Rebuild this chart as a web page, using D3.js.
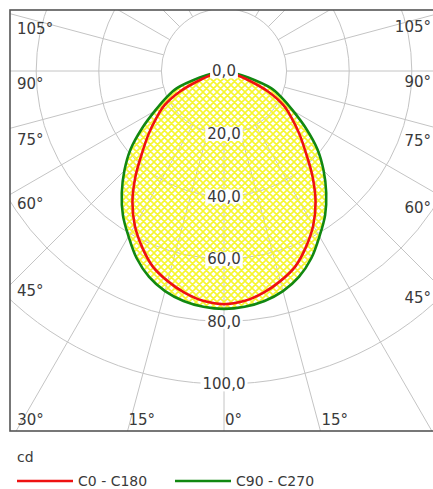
<!DOCTYPE html>
<html>
<head>
<meta charset="utf-8">
<script src="https://cdn.jsdelivr.net/npm/d3@7"></script>
<style>
  body { margin: 0; background: #fff; }
  text { font-family: "DejaVu Sans", Verdana, sans-serif; fill: #3a3a3a; }
</style>
</head>
<body>
<div id="chart"></div>
<script>
// ---------------- data ----------------
// gamma angles, degrees from nadir (mirrored to both half-planes)
var gammaAngles = [0, 5, 10, 15, 20, 25, 30, 35, 40, 45, 50, 55, 60, 65, 70, 75, 80, 85, 90];
// C0 - C180, cd
var c0c180 = [74.5, 73.8, 72, 69.5, 66.5, 62, 57, 51, 44, 37, 31.5, 26.5, 22, 15.5, 7.5, 3, 1.5, 0.5, 0];
// C90 - C270, cd
var c90c270 = [76, 75.6, 74.6, 72.8, 70, 66, 61, 56.3, 50.8, 45, 39, 32, 25.5, 20.5, 16, 8, 3, 1, 0];
var ringValues = [0, 20, 40, 60, 80, 100];
var ringLabels = ["0,0", "20,0", "40,0", "60,0", "80,0", "100,0"];
var leftAngleLabels = [105, 90, 75, 60, 45];
var bottomAngleLabels = [-30, -15, 0, 15];
var rightAngleLabels = [105, 90, 75, 60, 45];
var seriesNames = ["C0 - C180", "C90 - C270"];
var seriesColors = ["#ee1111", "#118811"];

// ---------------- setup ----------------
var W = 433, H = 489;
var frame = {x0: 10, y0: 10, x1: 438, y1: 431};
var cx = 224, cy = 71;

var r = d3.scaleLinear().domain([0, 100]).range([0, 313]);

var svg = d3.select("#chart").append("svg")
  .attr("width", W).attr("height", H);

var defs = svg.append("defs");
defs.append("clipPath").attr("id", "frameClip")
  .append("rect")
  .attr("x", frame.x0).attr("y", frame.y0)
  .attr("width", frame.x1 - frame.x0).attr("height", frame.y1 - frame.y0);

var pat = defs.append("pattern")
  .attr("id", "hatch")
  .attr("patternUnits", "userSpaceOnUse")
  .attr("width", 7).attr("height", 7);
pat.append("path")
  .attr("d", "M0,0L7,7M7,0L0,7M-1,6L1,8M6,-1L8,1M-1,1L1,-1M6,8L8,6")
  .attr("stroke", "#f6f630")
  .attr("stroke-width", 1.6);

var plot = svg.append("g").attr("clip-path", "url(#frameClip)");
var g = plot.append("g").attr("transform", "translate(" + cx + "," + cy + ")");

// ---------------- grid ----------------
var gridColor = "#c4c4c4";
var spokes = d3.range(0, 360, 15);
g.selectAll(".spoke").data(spokes).enter()
  .append("line")
  .attr("class", "spoke")
  .attr("x1", function(d){ return r(20) * Math.sin(d * Math.PI / 180); })
  .attr("y1", function(d){ return r(20) * Math.cos(d * Math.PI / 180); })
  .attr("x2", function(d){ return 700 * Math.sin(d * Math.PI / 180); })
  .attr("y2", function(d){ return 700 * Math.cos(d * Math.PI / 180); })
  .attr("stroke", gridColor).attr("stroke-width", 1);

g.selectAll(".ring").data(ringValues.filter(function(v){ return v > 0; })).enter()
  .append("circle")
  .attr("class", "ring")
  .attr("r", function(d){ return r(d); })
  .attr("fill", "none")
  .attr("stroke", gridColor).attr("stroke-width", 1);

// ---------------- curves ----------------
function toPoints(vals) {
  var pts = [];
  for (var i = gammaAngles.length - 1; i > 0; i--) pts.push([-gammaAngles[i], vals[i]]);
  for (var j = 0; j < gammaAngles.length; j++) pts.push([gammaAngles[j], vals[j]]);
  return pts;
}

var radial = d3.lineRadial()
  .angle(function(d){ return Math.PI - d[0] * Math.PI / 180; })
  .radius(function(d){ return r(d[1]); })
  .curve(d3.curveCatmullRom);

var series = [toPoints(c0c180), toPoints(c90c270)];

g.append("path")
  .attr("d", radial(series[1]) + "Z")
  .attr("fill", "url(#hatch)")
  .attr("stroke", "none");

g.selectAll(".curve").data([1, 0]).enter()
  .append("path")
  .attr("class", "curve")
  .attr("d", function(i){ return radial(series[i]); })
  .attr("fill", "none")
  .attr("stroke", function(i){ return seriesColors[i]; })
  .attr("stroke-width", 2.6)
  .attr("stroke-linejoin", "round");

// ---------------- ring labels ----------------
var rl = g.selectAll(".ringLabel").data(ringValues).enter()
  .append("g").attr("class", "ringLabel")
  .attr("transform", function(d){ return "translate(0," + r(d) + ")"; });
rl.append("text")
  .attr("text-anchor", "middle")
  .attr("dy", "0.36em")
  .style("font-size", "15px")
  .text(function(d, i){ return ringLabels[i]; })
  .each(function(){
    var b = this.getBBox();
    d3.select(this.parentNode).insert("rect", "text")
      .attr("x", b.x - 2).attr("y", b.y + 2)
      .attr("width", b.width + 4).attr("height", b.height - 4)
      .attr("fill", "#fff");
  });

// ---------------- angle labels ----------------
function spokeYAtX(deg, x) {
  // deg measured from nadir
  var a = deg * Math.PI / 180;
  var dx = Math.abs(x - cx);
  return cy + dx * Math.cos(a) / Math.sin(a);
}

svg.selectAll(".lblL").data(leftAngleLabels).enter()
  .append("text")
  .attr("x", 17)
  .attr("y", function(d){ return spokeYAtX(d, 17) + 13; })
  .attr("dy", "0.36em")
  .style("font-size", "15px")
  .text(function(d){ return d + "°"; });

svg.selectAll(".lblR").data(rightAngleLabels).enter()
  .append("text")
  .attr("x", 431)
  .attr("text-anchor", "end")
  .attr("y", function(d){ return spokeYAtX(d, 431) + 11 + Math.max(0, 90 - d) * 0.2; })
  .attr("dy", "0.36em")
  .style("font-size", "15px")
  .text(function(d){ return d + "°"; });

svg.selectAll(".lblB").data(bottomAngleLabels).enter()
  .append("text")
  .attr("x", function(d){ return cx + (frame.y1 - cy) * Math.tan(d * Math.PI / 180) + 1; })
  .attr("y", 420)
  .attr("dy", "0.36em")
  .style("font-size", "15px")
  .text(function(d){ return Math.abs(d) + "°"; });

// ---------------- frame ----------------
svg.append("rect")
  .attr("x", frame.x0).attr("y", frame.y0)
  .attr("width", frame.x1 - frame.x0).attr("height", frame.y1 - frame.y0)
  .attr("fill", "none")
  .attr("stroke", "#555").attr("stroke-width", 1.6);

// ---------------- legend ----------------
svg.append("text")
  .attr("x", 17).attr("y", 457).attr("dy", "0.36em")
  .style("font-size", "14px")
  .text("cd");

var leg = svg.selectAll(".leg").data(seriesNames).enter()
  .append("g").attr("class", "leg")
  .attr("transform", function(d, i){ return "translate(" + (17 + i * 158) + ",481)"; });
leg.append("line")
  .attr("x1", 0).attr("x2", 56)
  .attr("stroke", function(d, i){ return seriesColors[i]; })
  .attr("stroke-width", 2.4);
leg.append("text")
  .attr("x", 61).attr("dy", "0.36em")
  .style("font-size", "14px")
  .text(function(d){ return d; });
</script>
</body>
</html>
